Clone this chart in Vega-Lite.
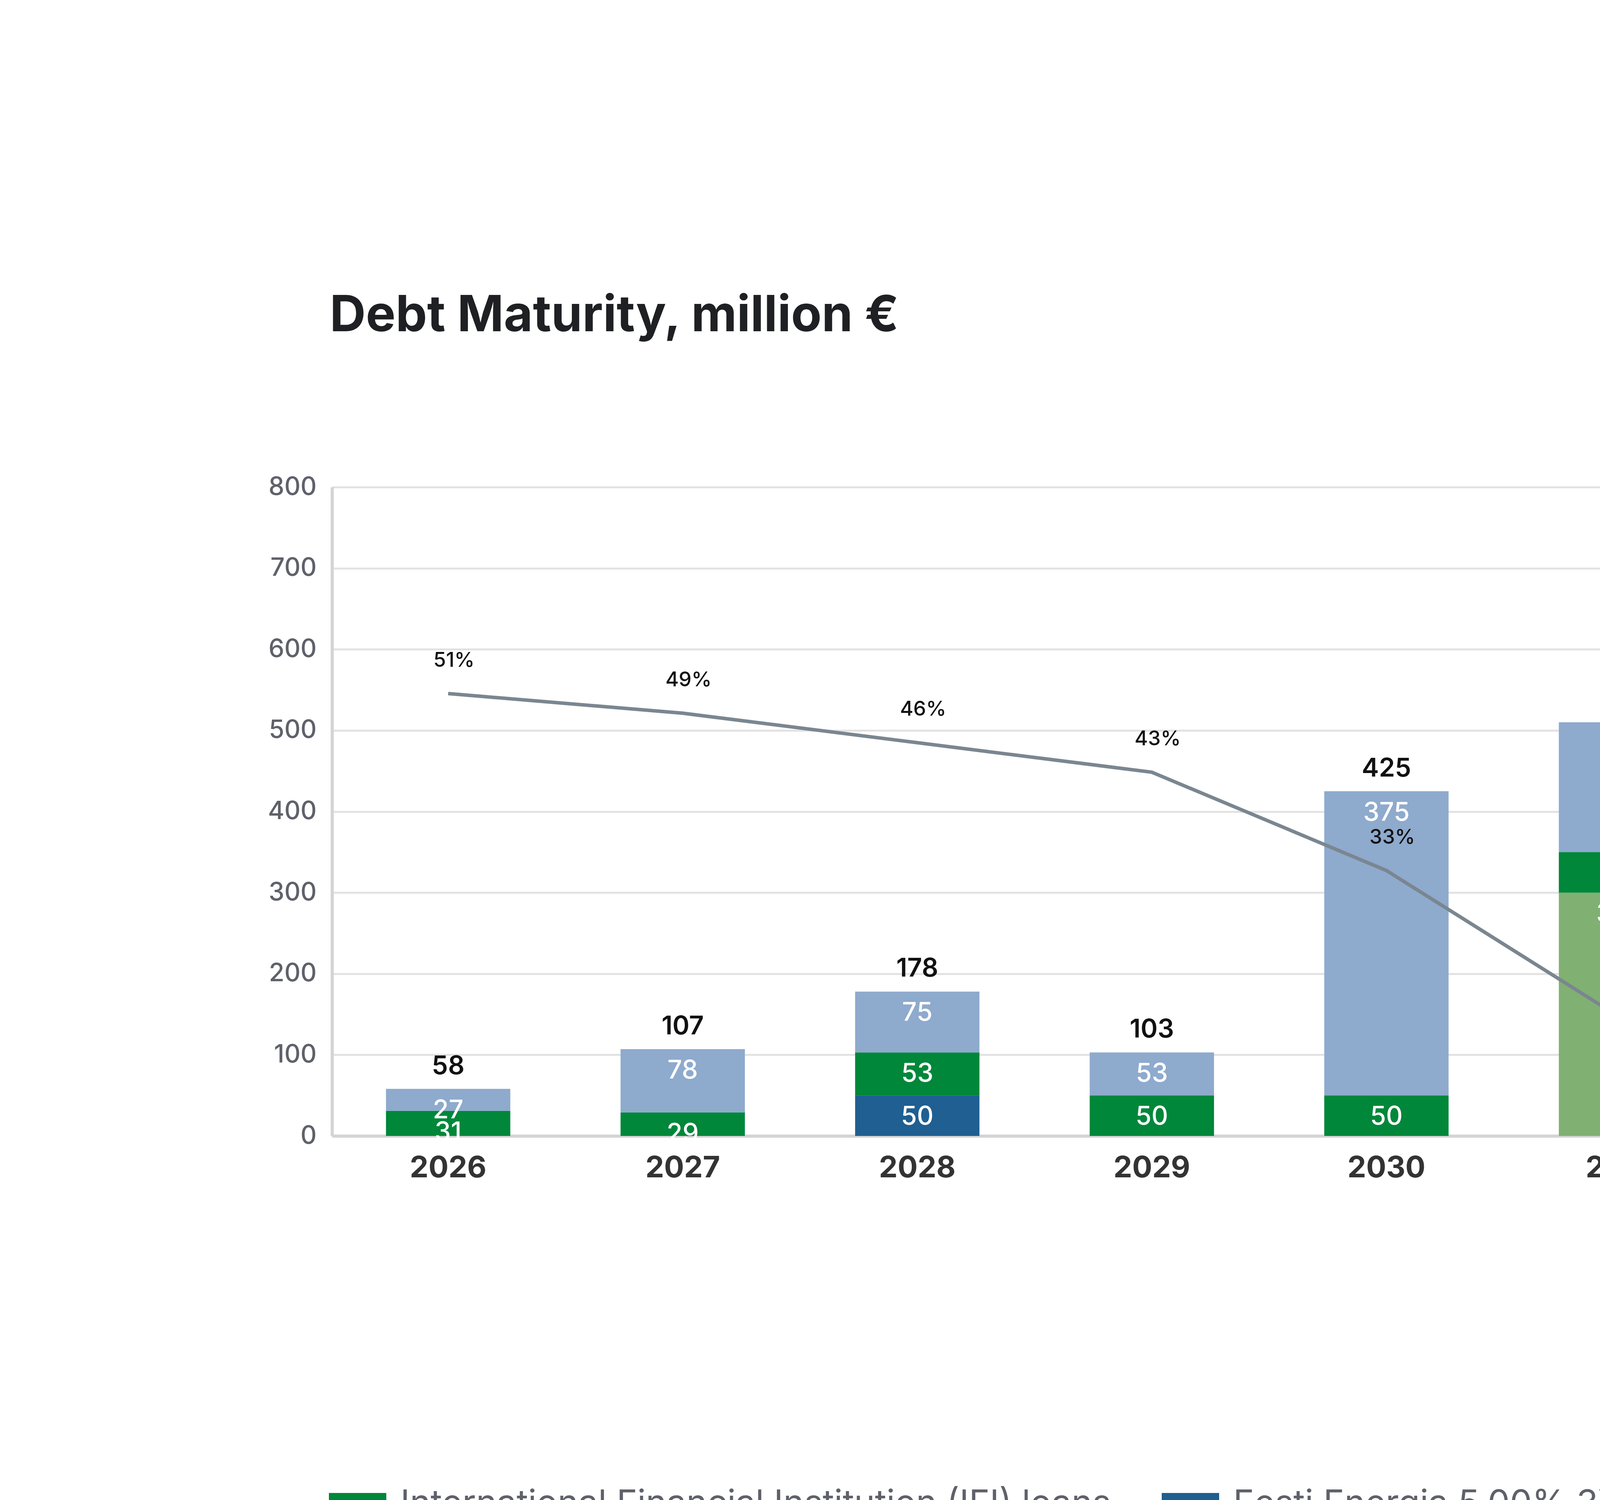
{
"$schema":"https://vega.github.io/schema/vega-lite/v6.json",
"width":4947,"height":3840,
"autosize":{"type":"fit","contains":"padding"},
"padding":{"left":685,"top":746,"right":500,"bottom":812},
"background":"white",
"config":{"font":"Inter","view":{"stroke":null}},
"title":{"text":"Debt Maturity, million €","anchor":"start","frame":"group","fontSize":128,"fontWeight":"bold","color":"#1f2023","offset":340,"dx":-6},
"datasets":{
"seg":[
{"year":"2026","type":"International Financial Institution (IFI) loans","value":31,"ord":1},
{"year":"2026","type":"Commercial Bank loans","value":27,"ord":2},
{"year":"2027","type":"International Financial Institution (IFI) loans","value":29,"ord":1},
{"year":"2027","type":"Commercial Bank loans","value":78,"ord":2},
{"year":"2028","type":"Eesti Energia 5.00% 3Y Bond","value":50,"ord":0},
{"year":"2028","type":"International Financial Institution (IFI) loans","value":53,"ord":1},
{"year":"2028","type":"Commercial Bank loans","value":75,"ord":2},
{"year":"2029","type":"International Financial Institution (IFI) loans","value":50,"ord":1},
{"year":"2029","type":"Commercial Bank loans","value":53,"ord":2},
{"year":"2030","type":"International Financial Institution (IFI) loans","value":50,"ord":1},
{"year":"2030","type":"Commercial Bank loans","value":375,"ord":2},
{"year":"2031","type":"Eesti Energia 4.60% 5Y Bond","value":300,"ord":0},
{"year":"2031","type":"International Financial Institution (IFI) loans","value":50,"ord":1},
{"year":"2031","type":"Commercial Bank loans","value":160,"ord":2}],
"tot":[{"year":"2026","total":58},{"year":"2027","total":107},{"year":"2028","total":178},{"year":"2029","total":103},{"year":"2030","total":425},{"year":"2031","total":510}],
"share":[{"year":"2026","share":0.51,"series":"Enefit OÜ loans as a share of the total portfolio"},{"year":"2027","share":0.49,"series":"Enefit OÜ loans as a share of the total portfolio"},{"year":"2028","share":0.46,"series":"Enefit OÜ loans as a share of the total portfolio"},{"year":"2029","share":0.43,"series":"Enefit OÜ loans as a share of the total portfolio"},{"year":"2030","share":0.33,"series":"Enefit OÜ loans as a share of the total portfolio"},{"year":"2031","share":0.18,"series":"Enefit OÜ loans as a share of the total portfolio"}]
},
"encoding":{"x":{"field":"year","type":"nominal","scale":{"paddingInner":0.47,"paddingOuter":0.23},"axis":{"title":null,"labelAngle":0,"labelFontSize":76,"labelFontWeight":"bold","labelColor":"#333","labelPadding":45,"labelLimit":0,"ticks":false,"domainColor":"#d4d4d4","domainWidth":8,"grid":false}}},
"layer":[
{"data":{"name":"seg"},"mark":{"type":"bar"},
 "encoding":{"y":{"field":"value","type":"quantitative","stack":"zero","scale":{"domain":[0,800]},"axis":{"title":null,"values":[0,100,200,300,400,500,600,700,800],"labelFontSize":64,"labelColor":"#5f616a","labelFontWeight":500,"labelPadding":40,"ticks":false,"domainColor":"#d4d4d4","domainWidth":8,"gridColor":"#e2e2e2","gridWidth":5}},
  "order":{"field":"ord"},
  "color":{"field":"type","type":"nominal","scale":{"domain":["International Financial Institution (IFI) loans","Eesti Energia 4.60% 5Y Bond","Eesti Energia 5.00% 3Y Bond","Commercial Bank loans"],"range":["#00873a","#80b072","#1f5f91","#8eaacd"]},
   "legend":{"title":null,"orient":"none","legendX":-8,"legendY":2530,"columns":2,"direction":"vertical","labelFontSize":90,"labelColor":"#5f616a","labelLimit":0,"rowPadding":100,"columnPadding":130,"symbolType":"M-1,-0.39 L1,-0.39 L1,0.39 L-1,0.39 Z","symbolSize":21609,"symbolStrokeWidth":0,"symbolOpacity":1,"labelOffset":36}}}},
{"data":{"name":"seg"},"mark":{"type":"text","color":"white","fontSize":66,"fontWeight":500,"baseline":"middle","dy":55},
 "encoding":{"y":{"field":"value","type":"quantitative","stack":"zero","scale":{"domain":[0,800]},"axis":null},"order":{"field":"ord"},"detail":{"field":"type"},"text":{"field":"value"}}},
{"data":{"name":"tot"},"mark":{"type":"text","color":"#111","fontSize":66,"fontWeight":600,"baseline":"middle","dy":-58},
 "encoding":{"y":{"field":"total","type":"quantitative","scale":{"domain":[0,800]},"axis":null},"text":{"field":"total"}}},
{"data":{"name":"share"},"mark":{"type":"line","color":"#7a8690","strokeWidth":9},
 "encoding":{"y":{"field":"share","type":"quantitative","scale":{"domain":[0.06,0.72]},"axis":null},
  "stroke":{"field":"series","type":"nominal","scale":{"range":["#7a8690"]},"legend":{"title":null,"orient":"none","legendX":-8,"legendY":2930,"labelFontSize":90,"labelColor":"#5f616a","labelLimit":0,"symbolType":"stroke","symbolSize":21609,"symbolStrokeWidth":22,"labelOffset":36}}}},
{"data":{"name":"share"},"mark":{"type":"text","color":"#111","fontSize":52,"fontWeight":500,"baseline":"middle","dy":-85,"dx":15},
 "encoding":{"y":{"field":"share","type":"quantitative","scale":{"domain":[0.06,0.72]},"axis":null},"text":{"field":"share","type":"quantitative","format":".0%"}}}
],
"resolve":{"scale":{"y":"independent","color":"independent","stroke":"independent"}}
}
